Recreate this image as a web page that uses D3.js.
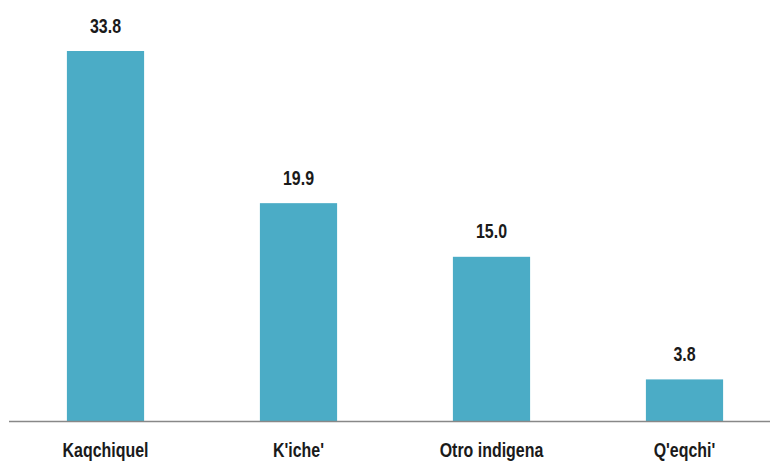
<!DOCTYPE html>
<html>
<head>
<meta charset="utf-8">
<script src="https://cdn.jsdelivr.net/npm/d3@7"></script>
<style>
  body { margin: 0; background: #fff; }
  text { font-family: "Liberation Sans", Arial, sans-serif; font-weight: bold; fill: #1a1a1a; }
</style>
</head>
<body>
<div id="vizcont"></div>
<script>
var categories = ["Kaqchiquel", "K'iche'", "Otro indigena", "Q'eqchi'"];
var values = [33.8, 19.9, 15.0, 3.8];

var width = 770, height = 462;
var baseY = 421;
var squeeze = 0.76; // narrow the font to look condensed

var svg = d3.select("#vizcont")
    .append("svg")
    .attr("width", width)
    .attr("height", height);

// x band scale, runs a bit past the right edge like the original
var x = d3.scaleBand()
    .domain(categories)
    .range([9, 781])
    .paddingInner(0.6)
    .paddingOuter(0.3);

// y scale
var y = d3.scaleLinear()
    .domain([0, 33.8])
    .range([baseY, 51]);

svg.selectAll("rect.bar")
    .data(values)
    .enter()
    .append("rect")
    .attr("class", "bar")
    .attr("x", function(d, i) { return x(categories[i]); })
    .attr("y", function(d) { return y(d); })
    .attr("width", x.bandwidth())
    .attr("height", function(d) { return baseY - y(d); })
    .style("fill", "#4bacc6");

// value labels
svg.selectAll("text.val")
    .data(values)
    .enter()
    .append("text")
    .attr("class", "val")
    .attr("transform", function(d, i) {
        return "translate(" + (x(categories[i]) + x.bandwidth() / 2) + "," + (y(d) - 18.5) + ") scale(" + squeeze + ",1)";
    })
    .attr("text-anchor", "middle")
    .style("font-size", "21px")
    .text(function(d) { return d.toFixed(1); });

// baseline axis
var xAxis = svg.append("g")
    .attr("transform", "translate(0," + (baseY + 0.5) + ")")
    .call(d3.axisBottom(x).tickSize(0));
xAxis.select(".domain").attr("stroke", "#888").attr("stroke-width", 1.5).attr("d", "M9,0H770");
xAxis.selectAll("text")
    .attr("y", 36)
    .attr("dy", null)
    .attr("transform", "scale(" + squeeze + ",1)")
    .style("font-size", "21px")
    .style("font-family", "'Liberation Sans', Arial, sans-serif")
    .style("font-weight", "bold")
    .attr("fill", "#1a1a1a");
</script>
</body>
</html>
